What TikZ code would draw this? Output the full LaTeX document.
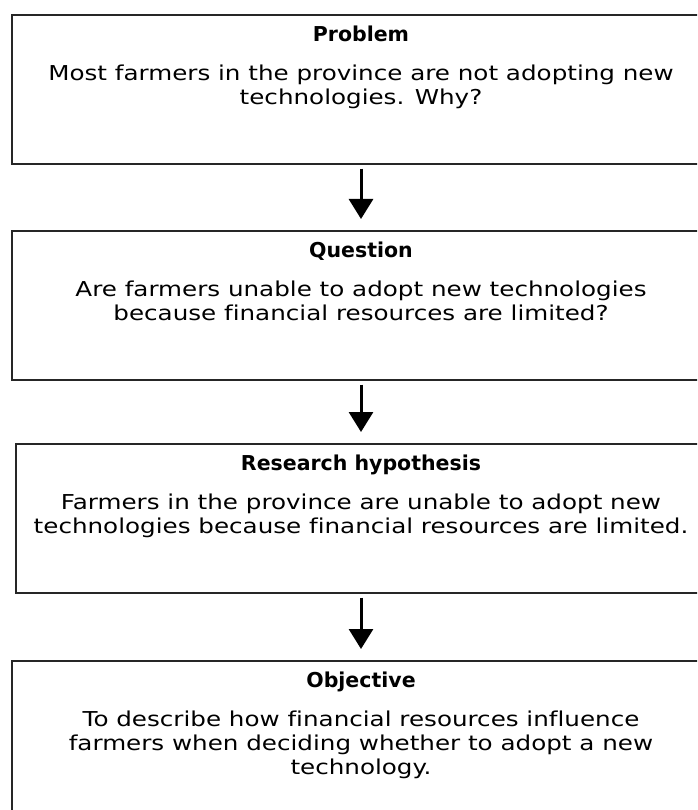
\documentclass[tikz,border=0pt]{standalone}
\usepackage{fontspec}
\setmainfont{DejaVu Sans}
\newfontfamily\bodyfont{DejaVu Sans}[FakeStretch=1.2,Ligatures=NoCommon]
\newcommand{\hd}[1]{{\normalfont\bfseries #1}}
\usetikzlibrary{arrows.meta}

\begin{document}
\begin{tikzpicture}[x=1pt,y=-1pt,
  box/.style={draw=black!85,line width=1.6pt,minimum width=698pt,minimum height=149pt,anchor=north,inner sep=0pt},
  txt/.style={anchor=north,align=center,inner sep=0pt,font=\bodyfont\fontsize{20.5}{24}\selectfont},
  arr/.style={line width=3pt,-{Triangle[width=24pt,length=20pt]},shorten <=4pt,shorten >=11pt}]
\clip (0,0) rectangle (697,810);
\node[box] (prob) at (361,14) {};
\node[box] (ques) at (361,230) {};
\node[box,minimum width=690pt] (hyp) at (361,443) {};
\node[box,minimum height=152pt] (obj) at (361,660) {};
\node[txt] (probT) at ([yshift=-12pt]prob.north) {\hd{Problem}\\[15pt]Most farmers in the province are not adopting new\\technologies. Why?};
\node[txt] (quesT) at ([yshift=-12pt]ques.north) {\hd{Question}\\[15pt]Are farmers unable to adopt new technologies\\because financial resources are limited?};
\node[txt] (hypT) at ([yshift=-12pt]hyp.north) {\hd{Research hypothesis}\\[15pt]Farmers in the province are unable to adopt new\\technologies because financial resources are limited.};
\node[txt] (objT) at ([yshift=-12pt]obj.north) {\hd{Objective}\\[15pt]To describe how financial resources influence\\farmers when deciding whether to adopt a new\\technology.};
\draw[arr] (prob) -- (ques);
\draw[arr] (ques) -- (hyp);
\draw[arr] (hyp) -- (obj);
\end{tikzpicture}
\end{document}
